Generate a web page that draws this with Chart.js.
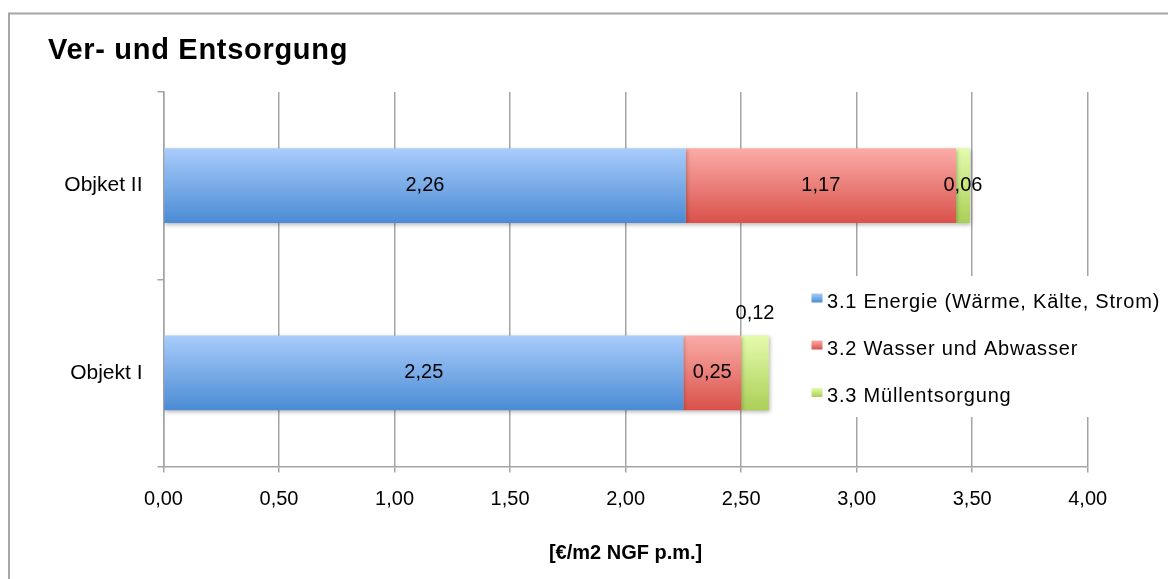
<!DOCTYPE html>
<html>
<head>
<meta charset="utf-8">
<title>Ver- und Entsorgung</title>
<script src="https://cdn.jsdelivr.net/npm/chart.js@4/dist/chart.umd.min.js"></script>
<style>
  html, body { margin: 0; padding: 0; background: #ffffff; }
  #wrap { width: 1168px; height: 579px; }
</style>
</head>
<body>
<div id="wrap"><canvas id="chart" width="1168" height="579"></canvas></div>
<script>
// Cost categories (first entry is the top bar)
const categories = ['Objket II', 'Objekt I'];

// Series values in €/m² NGF per month
const energie = [2.26, 2.25];
const wasser  = [1.17, 0.25];
const muell   = [0.06, 0.12];

const seriesNames = [
  '3.1 Energie (Wärme, Kälte, Strom)',
  '3.2 Wasser und Abwasser',
  '3.3 Müllentsorgung'
];

const chartTitle = 'Ver- und Entsorgung';
const axisTitle = '[€/m2 NGF p.m.]';

// Gradient stops (top -> bottom) for each series
const palette = [
  ['#a9ccfb', '#4a8bd4'],
  ['#fbaca8', '#d9514a'],
  ['#e5fbad', '#aacf56']
];

const FONT = "'Liberation Sans', Arial, sans-serif";
const GRID = '#a4a4a4';
const BAR_SHARE = 0.4;

const fmt = v => Number(v).toFixed(2).replace('.', ',');

function barGradient(stops) {
  return (ctx) => {
    const chart = ctx.chart;
    const ys = chart.scales && chart.scales.y;
    if (!chart.chartArea || !ys || ctx.dataIndex === undefined) return stops[1];
    const c = ys.getPixelForValue(ctx.dataIndex);
    const h = (ys.bottom - ys.top) / categories.length * BAR_SHARE;
    const g = chart.ctx.createLinearGradient(0, c - h / 2, 0, c + h / 2);
    g.addColorStop(0, stops[0]);
    g.addColorStop(1, stops[1]);
    return g;
  };
}

// Soft drop shadow under the bars, then the value labels
const barDecor = {
  id: 'barDecor',
  beforeDatasetsDraw(chart) {
    const c = chart.ctx;
    c.save();
    c.shadowColor = 'rgba(0,0,0,0.28)';
    c.shadowBlur = 4;
    c.shadowOffsetX = 1;
    c.shadowOffsetY = 2;
  },
  afterDatasetsDraw(chart) {
    const c = chart.ctx;
    c.restore();
    c.save();
    c.font = '20px ' + FONT;
    c.fillStyle = '#000';
    c.textAlign = 'center';
    c.textBaseline = 'middle';
    chart.data.datasets.forEach((ds, di) => {
      const meta = chart.getDatasetMeta(di);
      meta.data.forEach((el, i) => {
        const v = ds.data[i];
        const cx = (el.x + el.base) / 2;
        let cy = el.y;
        // the small waste segment of the lower bar carries its label above the bar
        if (di === 2 && i === 1) cy = el.y - el.height / 2 - 22;
        c.fillText(fmt(v), cx, cy);
      });
    });
    c.restore();
  }
};

// Frame, title and the legend placed inside the plot
const frame = {
  id: 'frame',
  beforeDraw(chart) {
    const c = chart.ctx;
    c.save();
    c.fillStyle = '#ffffff';
    c.fillRect(0, 0, chart.width, chart.height);
    c.restore();
  },
  afterDraw(chart) {
    const c = chart.ctx;
    c.save();
    c.strokeStyle = '#a6a6a6';
    c.lineWidth = 2;
    c.strokeRect(9, 13.5, 1300, 700);

    c.fillStyle = '#000';
    c.font = 'bold 29px ' + FONT;
    c.letterSpacing = '0.7px';
    c.textAlign = 'left';
    c.textBaseline = 'alphabetic';
    c.fillText(chartTitle, 48, 59);

    // legend box
    c.fillStyle = '#ffffff';
    c.fillRect(803, 276, 362, 141);
    const rows = [301, 348, 395.5];
    c.font = '20px ' + FONT;
    c.letterSpacing = '0.8px';
    c.textBaseline = 'middle';
    seriesNames.forEach((name, k) => {
      const y = rows[k];
      const g = c.createLinearGradient(0, y - 7.5, 0, y + 1.5);
      g.addColorStop(0, palette[k][0]);
      g.addColorStop(1, palette[k][1]);
      c.fillStyle = g;
      c.fillRect(811.5, y - 7.5, 11, 9);
      c.fillStyle = '#000';
      c.fillText(name, 827, y + 1);
    });
    c.restore();
  }
};

const datasets = [energie, wasser, muell].map((data, k) => ({
  label: seriesNames[k],
  data: data,
  backgroundColor: barGradient(palette[k]),
  borderWidth: 0,
  categoryPercentage: BAR_SHARE,
  barPercentage: 1.0
}));

new Chart(document.getElementById('chart'), {
  type: 'bar',
  data: { labels: categories, datasets: datasets },
  options: {
    indexAxis: 'y',
    responsive: false,
    animation: false,
    devicePixelRatio: 1,
    layout: { padding: { top: 92, right: 80.3, bottom: 0, left: 0 } },
    plugins: {
      legend: { display: false },
      title: { display: false },
      tooltip: { enabled: false }
    },
    scales: {
      x: {
        type: 'linear',
        stacked: true,
        min: 0,
        max: 4,
        ticks: {
          stepSize: 0.5,
          callback: v => fmt(v),
          color: '#000',
          font: { family: FONT, size: 20 },
          padding: 15
        },
        grid: { color: GRID, lineWidth: 1.5, tickLength: 6, tickColor: GRID },
        border: { color: GRID, width: 1.5 },
        title: {
          display: true,
          text: axisTitle,
          color: '#000',
          font: { family: FONT, size: 20, weight: 'bold' },
          padding: { top: 14, bottom: 14 }
        },
        afterFit: s => { s.height = 579 - 466.5; }
      },
      y: {
        type: 'category',
        stacked: true,
        offset: true,
        ticks: {
          color: '#000',
          font: { family: FONT, size: 21 },
          padding: 15
        },
        grid: { drawOnChartArea: false, offset: true, tickLength: 6, color: GRID, lineWidth: 1.5 },
        border: { color: GRID, width: 1.5 },
        afterFit: s => { s.width = 163.5; }
      }
    }
  },
  plugins: [frame, barDecor]
});
</script>
</body>
</html>
